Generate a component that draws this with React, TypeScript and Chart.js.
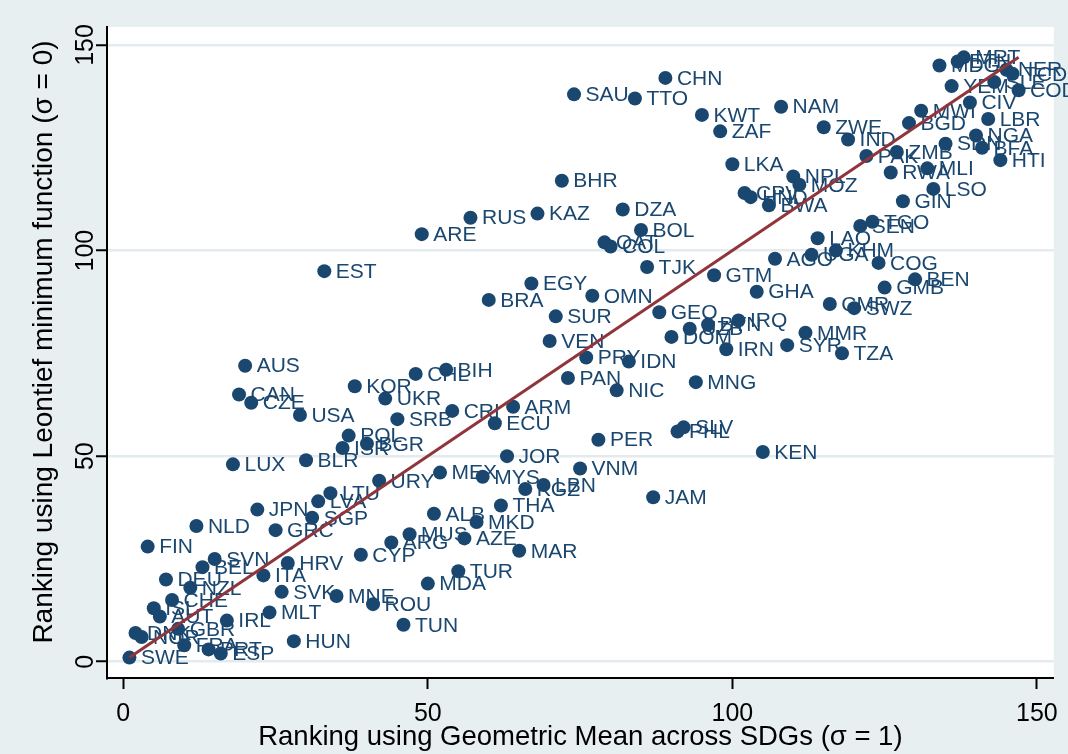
import React, { useEffect, useRef } from "react";
import { Chart, registerables } from "chart.js";

Chart.register(...registerables);

// Country codes, ordered by the geometric-mean ranking
const countries = [
  "SWE", "DNK", "NOR", "FIN", "ISL", "AUT", "DEU", "CHE", "GBR", "FRA",
  "NZL", "NLD", "BEL", "PRT", "SVN", "ESP", "IRL", "LUX", "CAN", "AUS",
  "CZE", "JPN", "ITA", "MLT", "GRC", "SVK", "HRV", "HUN", "USA", "BLR",
  "SGP", "LVA", "EST", "LTU", "MNE", "ISR", "POL", "KOR", "CYP", "BGR",
  "ROU", "URY", "UKR", "ARG", "SRB", "TUN", "MUS", "CHL", "ARE", "MDA",
  "ALB", "MEX", "BIH", "CRI", "TUR", "AZE", "RUS", "MKD", "MYS", "BRA",
  "ECU", "THA", "JOR", "ARM", "MAR", "KGZ", "EGY", "KAZ", "LBN", "VEN",
  "SUR", "BHR", "PAN", "SAU", "VNM", "PRY", "OMN", "PER", "QAT", "COL",
  "NIC", "DZA", "IDN", "TTO", "BOL", "TJK", "JAM", "GEO", "CHN", "DOM",
  "PHL", "SLV", "UZB", "MNG", "KWT", "BTN", "GTM", "ZAF", "IRN", "LKA",
  "IRQ", "CPV", "HND", "GHA", "KEN", "BWA", "AGO", "NAM", "SYR", "NPL",
  "MOZ", "MMR", "UGA", "LAO", "ZWE", "CMR", "KHM", "TZA", "IND", "SWZ",
  "SEN", "PAK", "TGO", "COG", "GMB", "RWA", "ZMB", "GIN", "BGD", "BEN",
  "MWI", "MLI", "LSO", "MDG", "SDN", "YEM", "ETH", "MRT", "CIV", "NGA",
  "BFA", "LBR", "SLE", "HTI", "NER", "TCD", "COD",
];

// Ranking using the geometric mean across SDGs (sigma = 1)
const geoMeanRank = [
  1, 2, 3, 4, 5, 6, 7, 8, 9, 10,
  11, 12, 13, 14, 15, 16, 17, 18, 19, 20,
  21, 22, 23, 24, 25, 26, 27, 28, 29, 30,
  31, 32, 33, 34, 35, 36, 37, 38, 39, 40,
  41, 42, 43, 44, 45, 46, 47, 48, 49, 50,
  51, 52, 53, 54, 55, 56, 57, 58, 59, 60,
  61, 62, 63, 64, 65, 66, 67, 68, 69, 70,
  71, 72, 73, 74, 75, 76, 77, 78, 79, 80,
  81, 82, 83, 84, 85, 86, 87, 88, 89, 90,
  91, 92, 93, 94, 95, 96, 97, 98, 99, 100,
  101, 102, 103, 104, 105, 106, 107, 108, 109, 110,
  111, 112, 113, 114, 115, 116, 117, 118, 119, 120,
  121, 122, 123, 124, 125, 126, 127, 128, 129, 130,
  131, 132, 133, 134, 135, 136, 137, 138, 139, 140,
  141, 142, 143, 144, 145, 146, 147,
];

// Ranking using the Leontief minimum function (sigma = 0)
const leontiefRank = [
  1, 7, 6, 28, 13, 11, 20, 15, 8, 4,
  18, 33, 23, 3, 25, 2, 10, 48, 65, 72,
  63, 37, 21, 12, 32, 17, 24, 5, 60, 49,
  35, 39, 95, 41, 16, 52, 55, 67, 26, 53,
  14, 44, 64, 29, 59, 9, 31, 70, 104, 19,
  36, 46, 71, 61, 22, 30, 108, 34, 45, 88,
  58, 38, 50, 62, 27, 42, 92, 109, 43, 78,
  84, 117, 69, 138, 47, 74, 89, 54, 102, 101,
  66, 110, 73, 137, 105, 96, 40, 85, 142, 79,
  56, 57, 81, 68, 133, 82, 94, 129, 76, 121,
  83, 114, 113, 90, 51, 111, 98, 135, 77, 118,
  116, 80, 99, 103, 130, 87, 100, 75, 127, 86,
  106, 123, 107, 97, 91, 119, 124, 112, 131, 93,
  134, 120, 115, 145, 126, 140, 146, 147, 136, 128,
  125, 132, 141, 122, 144, 143, 139,
];

// Reference line
const refLineX = [1, 147];
const refLineY = [1, 147];

const xTickValues = [0, 50, 100, 150];
const yTickValues = [0, 50, 100, 150];

const xTitle = "Ranking using Geometric Mean across SDGs (\u03c3 = 1)";
const yTitle = "Ranking using Leontief minimum function (\u03c3 = 0)";

const NAVY = "#1a476f";
const MAROON = "#90353b";
const OUTER_BG = "#e8eff1";
const GRID = "#e3ebee";
const FONT = "'Liberation Sans', Arial, Helvetica, sans-serif";

const backgroundPlugin = {
  id: "panelBackground",
  beforeDraw(chart: any) {
    const { ctx, chartArea, width, height } = chart;
    ctx.save();
    ctx.fillStyle = OUTER_BG;
    ctx.fillRect(0, 0, width, height);
    ctx.fillStyle = "#ffffff";
    ctx.fillRect(
      chartArea.left,
      chartArea.top,
      chartArea.right - chartArea.left,
      chartArea.bottom - chartArea.top
    );
    ctx.restore();
  },
};

// Country code printed to the right of each marker
const markerLabelPlugin = {
  id: "markerLabels",
  beforeDatasetsDraw(chart: any) {
    const meta = chart.getDatasetMeta(1);
    const ctx = chart.ctx;
    ctx.save();
    ctx.font = `21px ${FONT}`;
    ctx.fillStyle = NAVY;
    ctx.textAlign = "left";
    ctx.textBaseline = "middle";
    meta.data.forEach((pt: any, i: number) => {
      ctx.fillText(countries[i], pt.x + 11.5, pt.y + 1);
    });
    ctx.restore();
  },
};

// Vertical axis numbers and title, turned to read upwards
const yAxisTextPlugin = {
  id: "yAxisText",
  afterDraw(chart: any) {
    const { ctx } = chart;
    const yScale = chart.scales.y;
    ctx.save();
    ctx.fillStyle = "#000";
    ctx.textAlign = "center";
    ctx.textBaseline = "middle";
    ctx.font = `25px ${FONT}`;
    yTickValues.forEach((v) => {
      const py = yScale.getPixelForValue(v);
      ctx.save();
      ctx.translate(86, py);
      ctx.rotate(-Math.PI / 2);
      ctx.fillText(String(v), 0, 0);
      ctx.restore();
    });
    ctx.font = `28px ${FONT}`;
    ctx.translate(44, 342);
    ctx.rotate(-Math.PI / 2);
    ctx.fillText(yTitle, 0, 0);
    ctx.restore();
  },
};

export default function App() {
  const canvasRef = useRef<HTMLCanvasElement | null>(null);

  useEffect(() => {
    if (!canvasRef.current) return;
    const points = geoMeanRank.map((x, i) => ({ x, y: leontiefRank[i] }));
    const refLine = refLineX.map((x, i) => ({ x, y: refLineY[i] }));

    const chart = new Chart(canvasRef.current, {
      type: "scatter",
      data: {
        datasets: [
          {
            data: refLine,
            showLine: true,
            borderColor: MAROON,
            borderWidth: 3,
            pointRadius: 0,
            order: 0,
          },
          {
            data: points,
            backgroundColor: NAVY,
            borderWidth: 0,
            pointRadius: 7,
            pointHoverRadius: 7,
            order: 1,
          },
        ],
      },
      options: {
        animation: false,
        responsive: false,
        events: [],
        layout: { padding: { left: 0, top: 27, right: 14, bottom: 0 } },
        plugins: {
          legend: { display: false },
          tooltip: { enabled: false },
        },
        scales: {
          x: {
            type: "linear",
            min: -2.68,
            max: 152.77,
            afterBuildTicks: (s: any) => {
              s.ticks = xTickValues.map((v) => ({ value: v }));
            },
            afterFit: (s: any) => {
              s.height = 76;
            },
            grid: {
              drawOnChartArea: false,
              drawTicks: true,
              tickLength: 11,
              tickColor: "#000",
              tickWidth: 2,
            },
            border: { display: true, color: "#000", width: 2 },
            ticks: {
              color: "#000",
              font: { size: 25, family: FONT },
              padding: 10,
              maxRotation: 0,
            },
            title: {
              display: true,
              text: xTitle,
              color: "#000",
              font: { size: 27.5, family: FONT },
              padding: { top: 0, bottom: 0 },
            },
          },
          y: {
            type: "linear",
            min: -3.96,
            max: 154.38,
            afterBuildTicks: (s: any) => {
              s.ticks = yTickValues.map((v) => ({ value: v }));
            },
            afterFit: (s: any) => {
              s.width = 107;
            },
            grid: {
              drawOnChartArea: true,
              color: GRID,
              lineWidth: 2.5,
              drawTicks: true,
              tickLength: 11,
              tickColor: "#000",
              tickWidth: 2,
            },
            border: { display: true, color: "#000", width: 2 },
            ticks: { display: false },
            title: { display: false },
          },
        },
      },
      plugins: [backgroundPlugin, markerLabelPlugin, yAxisTextPlugin],
    } as any);

    return () => chart.destroy();
  }, []);

  return (
    <div
      style={{
        position: "fixed",
        left: 0,
        top: 0,
        width: 1068,
        height: 754,
        background: OUTER_BG,
      }}
    >
      <canvas
        ref={canvasRef}
        width={1068}
        height={754}
        style={{ display: "block", width: 1068, height: 754 }}
      />
    </div>
  );
}
